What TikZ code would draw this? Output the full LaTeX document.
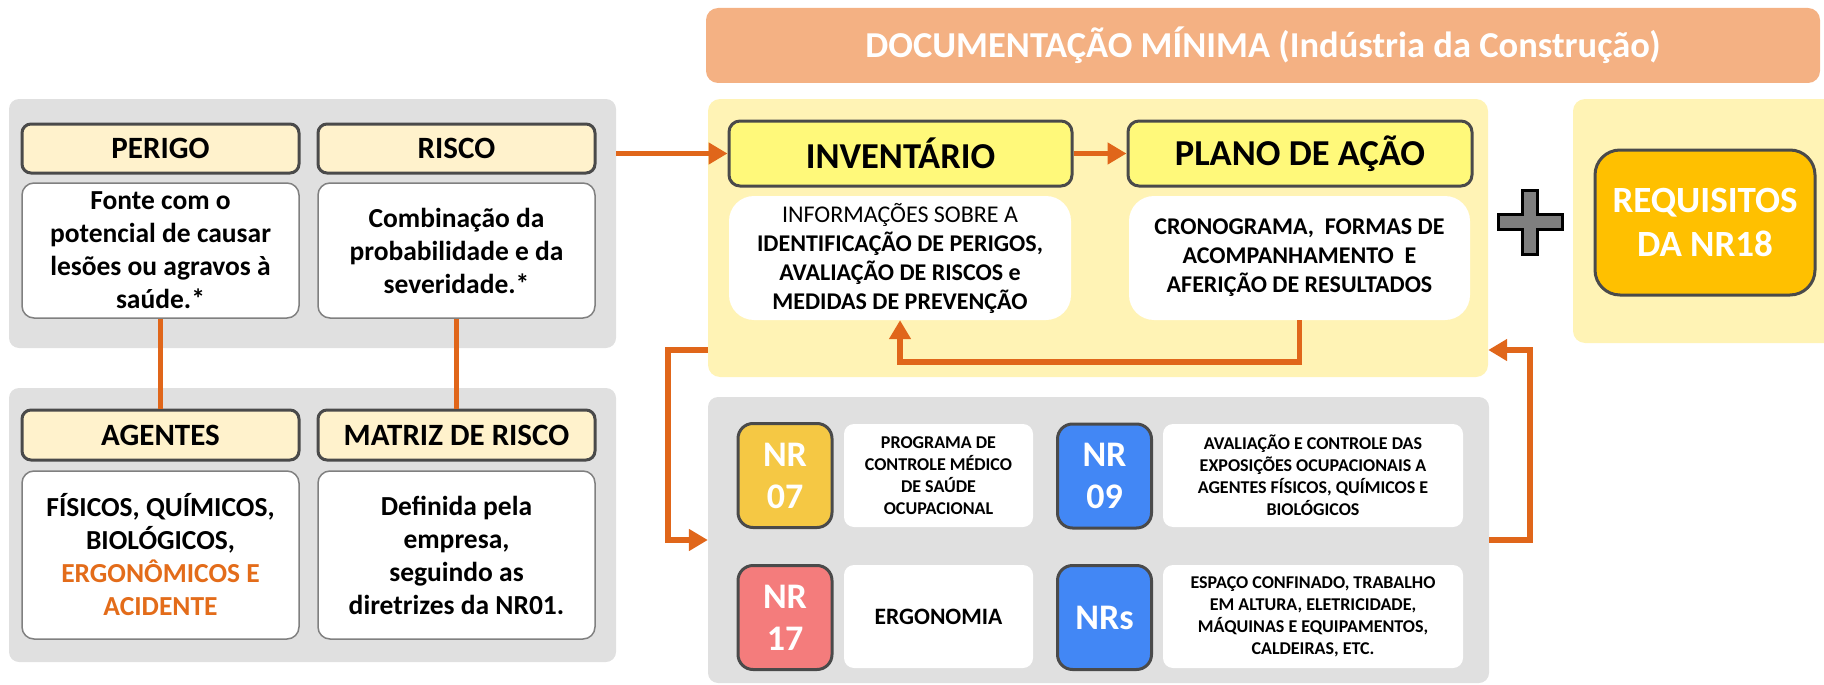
\documentclass[tikz,border=0pt]{standalone}
\usepackage{fontspec}
\setmainfont{Carlito}
\usetikzlibrary{arrows.meta}
\definecolor{panelgray}{HTML}{E0E0E0}
\definecolor{cream}{HTML}{FFF2CC}
\definecolor{hdrborder}{HTML}{4A4A4A}
\definecolor{bodyborder}{HTML}{808080}
\definecolor{ypanel}{HTML}{FFF3B5}
\definecolor{invhdr}{HTML}{FFF97A}
\definecolor{titlebar}{HTML}{F4B183}
\definecolor{orangeline}{HTML}{E0661A}
\definecolor{reqfill}{HTML}{FFC000}
\definecolor{nrgold}{HTML}{F5C844}
\definecolor{nrblue}{HTML}{4287F5}
\definecolor{nrpink}{HTML}{F47C7C}
\definecolor{plusgray}{HTML}{7F7F7F}
\definecolor{orangetext}{HTML}{E36C1A}
\tikzset{
  panel/.style={fill=panelgray, draw=none, rounded corners=10pt, inner sep=0pt},
  ypanelbox/.style={fill=ypanel, draw=none, rounded corners=12pt, inner sep=0pt},
  hdr/.style={fill=cream, draw=hdrborder, line width=3pt, rounded corners=9pt, inner sep=0pt,
    font=\bfseries\fontsize{31}{36}\selectfont},
  bodybox/.style={fill=white, draw=bodyborder, line width=1.5pt, rounded corners=12pt, inner sep=0pt,
    align=center, font=\bfseries\fontsize{27.5}{33}\selectfont},
  bighdr/.style={fill=invhdr, draw=hdrborder, line width=3pt, rounded corners=11pt, inner sep=0pt,
    font=\bfseries\fontsize{36.5}{42}\selectfont},
  docbody/.style={fill=white, draw=none, rounded corners=25pt, inner sep=0pt, align=center,
    font=\fontsize{24}{29}\selectfont},
  nrbox/.style={draw=hdrborder, line width=3pt, rounded corners=15pt, inner sep=0pt, align=center,
    text=white, font=\bfseries\fontsize{36}{42}\selectfont, minimum width=94pt, minimum height=104pt},
  nrdesc/.style={fill=white, draw=none, rounded corners=10pt, inner sep=0pt, align=center,
    font=\bfseries\fontsize{18}{22}\selectfont, minimum height=103pt},
  conn/.style={draw=orangeline, line width=5.5pt},
  arr/.style={draw=orangeline, line width=5.5pt, -{Triangle[length=19pt,width=21pt]}},
}
\begin{document}
\begin{tikzpicture}[x=1pt,y=-1pt]
\useasboundingbox (0,0) rectangle (1824,685);
\clip (0,0) rectangle (1824,685);

% title
\node[fill=titlebar, rounded corners=12pt, minimum width=1114pt, minimum height=75pt, inner sep=0pt,
  text=white, font=\bfseries\fontsize{36.5}{42}\selectfont] (title) at (1263,45.5)
  {DOCUMENTAÇÃO MÍNIMA (Indústria da Construção)};

% left panels
\node[panel, minimum width=607pt, minimum height=249pt] (ptop) at (312.5,223.5) {};
\node[panel, minimum width=607pt, minimum height=274pt] (pbot) at (312.5,525) {};

\node[hdr, minimum width=277pt, minimum height=49pt] (perh) at (160.5,148.5) {PERIGO};
\node[hdr, minimum width=277pt, minimum height=49pt] (risch) at (456.5,148.5) {RISCO};
\node[bodybox, minimum width=277pt, minimum height=135pt] (perb) at (160.5,250.5)
  {Fonte com o\\potencial de causar\\lesões ou agravos à\\saúde.*};
\node[bodybox, minimum width=277pt, minimum height=135pt] (riscb) at (456.5,250.5)
  {Combinação da\\probabilidade e da\\severidade.*};

\node[hdr, minimum width=277pt, minimum height=50pt] (ageh) at (160.5,435) {AGENTES};
\node[hdr, minimum width=277pt, minimum height=50pt] (math) at (456.5,435) {MATRIZ DE RISCO};
\node[bodybox, minimum width=277pt, minimum height=168pt] (ageb) at (160.5,555)
  {FÍSICOS, QUÍMICOS,\\BIOLÓGICOS,\\\textcolor{orangetext}{ERGONÔMICOS E}\\\textcolor{orangetext}{ACIDENTE}};
\node[bodybox, minimum width=277pt, minimum height=168pt] (matb) at (456.5,555)
  {Definida pela\\empresa,\\seguindo as\\diretrizes da NR01.};

\draw[conn] (perb.south) -- (ageh.north);
\draw[conn] (riscb.south) -- (math.north);

% yellow documentation panel
\node[ypanelbox, minimum width=780pt, minimum height=278pt] (ypanel) at (1098,238) {};
\node[bighdr, minimum width=343pt, minimum height=65pt] (invh) at (900.5,153.5) {INVENTÁRIO};
\node[bighdr, minimum width=344pt, minimum height=65pt] (planh) at (1300,153.5) {PLANO DE AÇÃO};
\node[docbody, minimum width=342pt, minimum height=124pt] (invb) at (900,258)
  {INFORMAÇÕES SOBRE A\\\textbf{IDENTIFICAÇÃO DE PERIGOS,}\\\textbf{AVALIAÇÃO DE RISCOS e}\\\textbf{MEDIDAS DE PREVENÇÃO}};
\node[docbody, minimum width=341pt, minimum height=124pt, font=\bfseries\fontsize{24}{29}\selectfont] (planb) at (1299.5,258)
  {CRONOGRAMA,\ \ FORMAS DE\\ACOMPANHAMENTO\ \ E\\AFERIÇÃO DE RESULTADOS};

\draw[arr] (ptop.east |- invh.west) -- (invh.west);
\draw[arr] (invh.east) -- (planh.west);
\draw[arr] (planb.south) -- ++(0,42) -| (invb.south);

% plus sign
\draw[fill=plusgray, draw=black, line width=3pt, line join=miter]
  (1522.5,190) -- (1537.5,190) -- (1537.5,214.5) -- (1562,214.5) -- (1562,229.5) -- (1537.5,229.5)
  -- (1537.5,254) -- (1522.5,254) -- (1522.5,229.5) -- (1498,229.5) -- (1498,214.5) -- (1522.5,214.5) -- cycle;

% requisitos
\node[ypanelbox, minimum width=270pt, minimum height=244pt] (rpanel) at (1708,221) {};
\node[fill=reqfill, draw=hdrborder, line width=3pt, rounded corners=25pt, inner sep=0pt,
  minimum width=220pt, minimum height=145pt, align=center, text=white,
  font=\bfseries\fontsize{37}{44}\selectfont] (req) at (1705,222.5) {REQUISITOS\\DA NR18};

% NR panel
\node[panel, minimum width=781pt, minimum height=286pt] (npanel) at (1098.5,540) {};
\node[nrbox, fill=nrgold] (nr07) at (785,475.5) {NR\\07};
\node[nrdesc, minimum width=189pt] (nr07d) at (938.5,475.5)
  {PROGRAMA DE\\CONTROLE MÉDICO\\DE SAÚDE\\OCUPACIONAL};
\node[nrbox, fill=nrblue] (nr09) at (1104.5,476) {NR\\09};
\node[nrdesc, minimum width=300pt] (nr09d) at (1313,475.5)
  {AVALIAÇÃO E CONTROLE DAS\\EXPOSIÇÕES OCUPACIONAIS A\\AGENTES FÍSICOS, QUÍMICOS E\\BIOLÓGICOS};
\node[nrbox, fill=nrpink] (nr17) at (785,617.5) {NR\\17};
\node[nrdesc, minimum width=189pt, font=\bfseries\fontsize{23.5}{28}\selectfont] (ergo) at (938.5,616.5) {ERGONOMIA};
\node[nrbox, fill=nrblue] (nrs) at (1104.5,617.5) {NRs};
\node[nrdesc, minimum width=300pt] (nrsd) at (1313,616.5)
  {ESPAÇO CONFINADO, TRABALHO\\EM ALTURA, ELETRICIDADE,\\MÁQUINAS E EQUIPAMENTOS,\\CALDEIRAS, ETC.};

% return arrows
\coordinate (lr) at (668,350);
\coordinate (rr) at (1530,350);
\draw[arr] (ypanel.west |- lr) -- (lr) |- (npanel.west);
\draw[arr] (npanel.east) -| (rr) -- (ypanel.east |- rr);
\end{tikzpicture}
\end{document}
